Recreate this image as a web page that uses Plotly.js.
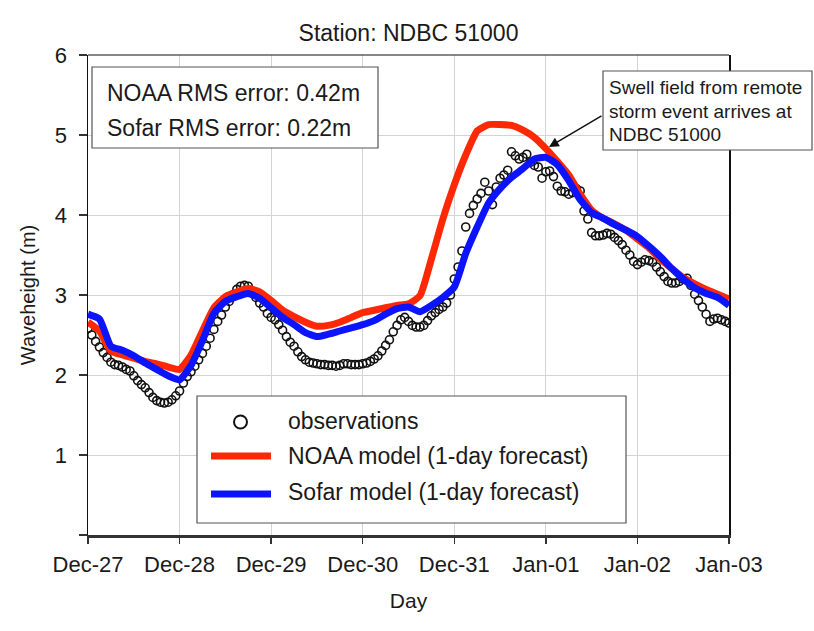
<!DOCTYPE html>
<html>
<head>
<meta charset="utf-8">
<script src="https://cdn.plot.ly/plotly-3.0.1.min.js"></script>
<style>html,body{margin:0;padding:0;background:#fff;}#chart{width:814px;height:631px;}</style>
</head>
<body>
<div id="chart"></div>
<script>
// ---- data ----
const startDay = '2018-12-27';
const endDay = '2019-01-03';
const obsStepHours = 1;
const modelStepHours = 3;

// hourly buoy observations, Dec-27 00:00 .. Jan-03 00:00 (m)
const observations = [
  2.58,2.50,2.42,2.35,2.28,2.22,2.16,2.13,2.12,2.10,2.07,2.05,1.99,1.93,1.88,1.84,1.78,1.72,1.68,1.66,1.65,1.66,1.69,1.74,1.80,
  1.90,1.98,2.04,2.11,2.19,2.27,2.36,2.46,2.57,2.67,2.75,2.85,2.92,3.00,3.07,3.11,3.12,3.11,3.05,2.97,2.90,2.85,2.77,2.72,2.69,2.63,2.56,2.48,2.41,2.36,2.29,2.23,2.19,
  2.16,2.15,2.14,2.13,2.13,2.12,2.12,2.11,2.12,2.14,2.14,2.13,2.13,2.13,2.14,2.15,2.17,2.20,2.24,2.30,2.37,2.44,2.54,2.62,2.69,2.72,2.67,2.62,2.60,2.60,2.62,2.68,2.74,2.78,2.82,2.85,2.90,3.00,3.20,3.35,
  3.55,3.85,4.02,4.12,4.20,4.27,4.41,4.30,4.13,4.35,4.46,4.50,4.56,4.79,4.74,4.70,4.72,4.76,4.66,4.62,4.60,4.46,4.54,
  4.55,4.48,4.36,4.30,4.29,4.26,4.28,4.33,4.30,4.05,3.95,3.78,3.74,3.74,3.75,3.77,3.76,3.72,3.68,3.63,3.56,3.50,3.42,3.38,3.41,3.44,3.43,3.41,3.35,3.29,3.23,3.17,3.15,3.15,3.17,3.20,3.21,3.12,3.01,2.93,2.85,2.76,2.67,2.70,2.71,2.69,2.67,2.65
];

// 3-hourly model forecasts (m)
const noaaModel = [
  2.66,2.55,2.30,2.25,2.21,2.17,2.14,2.10,2.07,
  2.25,2.55,2.84,2.98,3.04,3.08,3.04,2.93,2.81,2.73,2.66,
  2.61,2.62,2.66,2.72,2.78,2.81,2.84,2.87,2.89,2.99,3.45,3.95,4.38,4.75,5.05,5.13,5.13,5.12,5.06,4.97,4.83,4.67,4.50,
  4.26,4.06,3.96,3.89,3.81,3.70,3.59,3.45,3.33,3.22,3.14,3.07,3.01,2.95
];
const sofarModel = [
  2.76,2.70,2.36,2.31,2.24,2.15,2.07,1.99,1.94,
  2.12,2.43,2.77,2.92,2.98,3.02,2.96,2.84,2.72,2.63,2.53,
  2.48,2.51,2.55,2.59,2.63,2.68,2.76,2.83,2.85,2.79,2.87,2.97,3.10,3.52,3.85,4.15,4.33,4.47,4.58,4.70,4.72,4.63,4.43,
  4.19,4.03,3.96,3.88,3.81,3.73,3.61,3.48,3.33,3.20,3.09,3.02,2.97,2.87
];

const seriesNames = ['observations', 'NOAA model (1-day forecast)', 'Sofar model (1-day forecast)'];
const yTickValues = [0, 1, 2, 3, 4, 5, 6];
const yTickLabels = ['', '1', '2', '3', '4', '5', '6'];
const chartTitle = 'Station: NDBC 51000';
const xTitle = 'Day';
const yTitle = 'Waveheight (m)';
const rmsLines = ['NOAA RMS error: 0.42m', 'Sofar RMS error: 0.22m'];
const noteLines = ['Swell field from remote', 'storm event arrives at', 'NDBC 51000'];

// ---- helpers ----
const t0 = Date.parse(startDay + 'T00:00:00Z');
function hourToDate(h) {
  return new Date(t0 + h * 3600000).toISOString().slice(0, 19).replace('T', ' ');
}
const obsTimes = observations.map((_, i) => hourToDate(i * obsStepHours));
const modelTimes = noaaModel.map((_, i) => hourToDate(i * modelStepHours));

const RED = 'rgb(255,40,5)';
const BLUE = 'rgb(12,20,255)';
const FONT = 'Liberation Sans, Arial, Helvetica, sans-serif';
const TXT = '#1a1a1a';

const traces = [
  {x: obsTimes, y: observations, name: seriesNames[0], type: 'scatter', mode: 'markers',
   marker: {symbol: 'circle-open', size: 8, color: '#111', line: {width: 1.6, color: '#111'}}},
  {x: modelTimes, y: noaaModel, name: seriesNames[1], type: 'scatter', mode: 'lines',
   line: {color: RED, width: 7, shape: 'spline', smoothing: 0.5}},
  {x: modelTimes, y: sofarModel, name: seriesNames[2], type: 'scatter', mode: 'lines',
   line: {color: BLUE, width: 7, shape: 'spline', smoothing: 0.5}}
];

// pixel -> paper helpers (plot area: x 88..729, y 55..535)
const L = 88, R = 85, T = 55, B = 96, W = 814, H = 631;
const pw = W - L - R, ph = H - T - B;
const px = v => (v - L) / pw;
const py = v => (H - B - v) / ph;

const shapes = [
  // top frame line
  {type: 'line', xref: 'paper', yref: 'paper', x0: 0, x1: 1, y0: 1, y1: 1, line: {color: '#111', width: 1.2}},
  // RMS box
  {type: 'rect', xref: 'paper', yref: 'paper', x0: px(92), x1: px(378), y0: py(148), y1: py(67),
   fillcolor: '#fff', line: {color: '#555', width: 1.2}},
  // note box
  {type: 'rect', xref: 'paper', yref: 'paper', x0: px(603), x1: px(812), y0: py(150), y1: py(71),
   fillcolor: '#fff', line: {color: '#555', width: 1.2}},
  // legend box
  {type: 'rect', xref: 'paper', yref: 'paper', x0: px(197), x1: px(626), y0: py(523), y1: py(396),
   fillcolor: '#fff', line: {color: '#555', width: 1.2}},
  // legend symbols
  {type: 'circle', xref: 'paper', yref: 'paper', x0: px(234), x1: px(247), y0: py(428.5), y1: py(415.5),
   line: {color: '#111', width: 2}},
  {type: 'line', xref: 'paper', yref: 'paper', x0: px(211), x1: px(271), y0: py(456), y1: py(456), line: {color: RED, width: 7}},
  {type: 'line', xref: 'paper', yref: 'paper', x0: px(211), x1: px(271), y0: py(494), y1: py(494), line: {color: BLUE, width: 7}}
];

const ann = (text, x, y, size) => ({text, xref: 'paper', yref: 'paper', x: px(x), y: py(y), xanchor: 'left', yanchor: 'middle',
  showarrow: false, font: {size, color: TXT, family: FONT}});

const annotations = [
  ann(rmsLines[0], 105, 93, 23),
  ann(rmsLines[1], 105, 128, 23),
  ann(noteLines[0], 607, 87, 19),
  ann(noteLines[1], 607, 111, 19),
  ann(noteLines[2], 607, 134, 19),
  ann(seriesNames[0], 286, 421, 23),
  ann(seriesNames[1], 286, 456, 23),
  ann(seriesNames[2], 286, 492, 23),
  {text: '', xref: 'paper', yref: 'paper', x: px(549), y: py(147), ax: 54, ay: -32, showarrow: true,
   arrowhead: 2, arrowsize: 1.3, arrowwidth: 1.5, arrowcolor: '#111'}
];

const layout = {
  width: W, height: H,
  margin: {l: L, r: R, t: T, b: B, pad: 0},
  paper_bgcolor: '#fff', plot_bgcolor: '#fff',
  font: {family: FONT, color: TXT, size: 20},
  showlegend: false,
  hovermode: false,
  title: {text: chartTitle, x: 0.5, xref: 'paper', xanchor: 'center', y: 1 - 33 / H, yanchor: 'middle',
          font: {size: 23, family: FONT, color: TXT}},
  xaxis: {
    type: 'date', range: [startDay, endDay], tick0: startDay, dtick: 86400000, tickformat: '%b-%d',
    showgrid: true, gridcolor: '#d4d4d4', gridwidth: 1, zeroline: false,
    showline: true, linecolor: '#333', linewidth: 2.5, mirror: false,
    ticks: 'outside', ticklen: 6, tickwidth: 1.5, tickcolor: '#333', ticklabelstandoff: 2,
    tickfont: {size: 22, family: FONT, color: TXT},
    title: {text: xTitle, standoff: 18, font: {size: 21, family: FONT, color: TXT}}
  },
  yaxis: {
    range: [0, 6], tickmode: 'array', tickvals: yTickValues, ticktext: yTickLabels,
    showgrid: true, gridcolor: '#d4d4d4', gridwidth: 1, zeroline: false,
    showline: true, linecolor: '#111', linewidth: 1.5, mirror: true,
    ticks: 'outside', ticklen: 8, tickwidth: 1.5, tickcolor: '#333', ticklabelstandoff: 7,
    tickfont: {size: 22, family: FONT, color: TXT},
    title: {text: yTitle, standoff: 14, font: {size: 20, family: FONT, color: TXT}}
  },
  shapes, annotations
};

Plotly.newPlot('chart', traces, layout, {displayModeBar: false, staticPlot: true});
</script>
</body>
</html>
